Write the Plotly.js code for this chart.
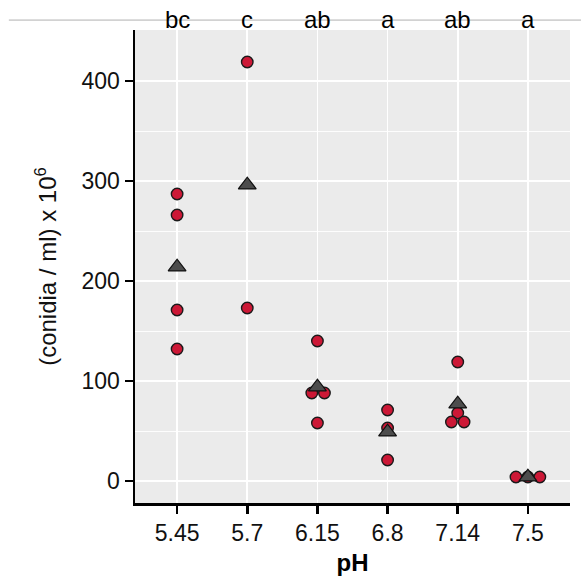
<!DOCTYPE html>
<html>
<head>
<meta charset="utf-8">
<script src="https://cdn.plot.ly/plotly-3.0.1.min.js"></script>
<style>
  html, body { margin: 0; padding: 0; background: #ffffff; }
  #chart { width: 581px; height: 583px; }
</style>
</head>
<body>
<div id="chart"></div>
<script>
// Categories (pH levels) and significance letters
var categories = ['5.45', '5.7', '6.15', '6.8', '7.14', '7.5'];
var letters = ['bc', 'c', 'ab', 'a', 'ab', 'a'];

// Individual observations: category index, value, small horizontal jitter
var pointGroup  = [0, 0, 0, 0, 1, 1, 2, 2, 2, 2, 3, 3, 3, 4, 4, 4, 4, 5, 5, 5];
var pointValue  = [287, 266, 171, 132, 419, 173, 140, 88, 88, 58, 71, 53, 21, 119, 68, 59, 59, 4, 4, 4];
var pointJitter = [0, 0, 0, 0, 0, 0, 0, -0.08, 0.1, 0, 0, 0, 0, 0, 0, -0.09, 0.09, -0.17, 0, 0.17];

// Group means (triangles)
var meanValue = [214, 296, 94, 49, 77, 4];

var catIndex = categories.map(function (c, i) { return i; });
var pointX = pointGroup.map(function (g, i) { return g + pointJitter[i]; });

var traces = [
  {
    type: 'scatter', mode: 'markers',
    x: pointX, y: pointValue,
    marker: { symbol: 'circle', size: 11.5, color: '#CC1836', line: { color: '#1a1a1a', width: 1.4 } },
    hoverinfo: 'y', showlegend: false
  },
  {
    type: 'scatter', mode: 'markers',
    x: catIndex, y: meanValue,
    marker: { symbol: 'triangle-up', size: 15.5, color: '#4D4D4D', line: { color: '#111111', width: 1.2 } },
    hoverinfo: 'y', showlegend: false
  }
];

var annotations = letters.map(function (t, i) {
  return {
    x: i, xref: 'x', y: 1.022, yref: 'paper',
    text: t, showarrow: false, xanchor: 'center', yanchor: 'middle',
    font: { family: 'Liberation Sans, Arial, sans-serif', size: 24, color: '#000000' }
  };
});

var layout = {
  width: 581, height: 583,
  margin: { l: 135, r: 11, t: 30, b: 80 },
  paper_bgcolor: '#ffffff',
  plot_bgcolor: '#EBEBEB',
  font: { family: 'Liberation Sans, Arial, sans-serif', size: 22, color: '#000000' },
  showlegend: false,
  xaxis: {
    range: [-0.6, 5.6],
    tickmode: 'array', tickvals: catIndex, ticktext: categories,
    showgrid: true, gridcolor: '#ffffff', gridwidth: 1.8,
    zeroline: false,
    showline: true, linecolor: '#000000', linewidth: 2.5,
    ticks: 'outside', ticklen: 8, tickwidth: 2.5, tickcolor: '#000000',
    tickfont: { size: 23, color: '#111111' },
    title: { text: '<b>pH</b>', font: { size: 24, color: '#000000' }, standoff: 9 }
  },
  yaxis: {
    range: [-22, 451],
    tickmode: 'array', tickvals: [0, 100, 200, 300, 400],
    showgrid: true, gridcolor: '#ffffff', gridwidth: 1.8,
    minor: { tickmode: 'array', tickvals: [50, 150, 250, 350], showgrid: true, gridcolor: '#ffffff', gridwidth: 0.9, ticks: '' },
    zeroline: false,
    showline: true, linecolor: '#000000', linewidth: 2.5,
    ticks: 'outside', ticklen: 8, tickwidth: 2.5, tickcolor: '#000000',
    tickfont: { size: 23, color: '#111111' },
    title: { text: '(conidia / ml) x 10<sup>6</sup>', font: { size: 24, color: '#111111' }, standoff: 18 }
  },
  shapes: [
    { type: 'line', xref: 'paper', yref: 'paper', x0: -0.29, x1: 1.03, y0: 1.021, y1: 1.021,
      line: { color: '#b0b0b0', width: 1 }, layer: 'below' }
  ],
  annotations: annotations
};

Plotly.newPlot('chart', traces, layout, { displayModeBar: false, staticPlot: true });
</script>
</body>
</html>
